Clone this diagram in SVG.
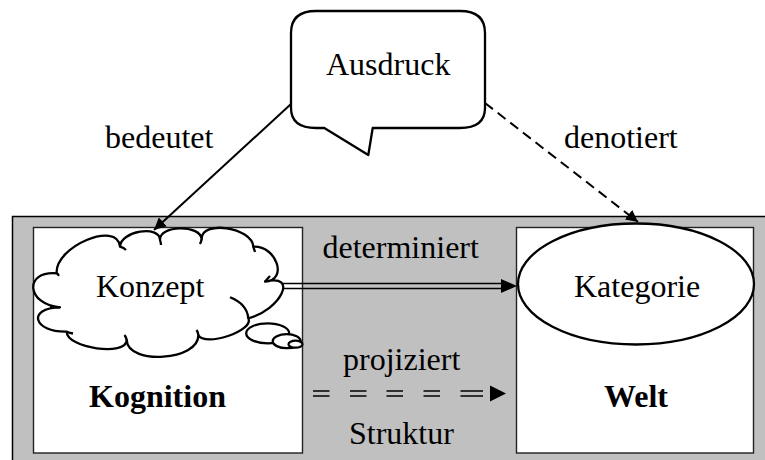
<svg xmlns="http://www.w3.org/2000/svg" width="765" height="460" viewBox="0 0 765 460">
<style>
text{font-family:"Liberation Serif","Times New Roman",serif;font-size:32px;fill:#000}
.b{font-weight:bold}
.shape{fill:#fff;stroke:#000;stroke-width:2.3;stroke-linejoin:round}
.panel{fill:#fff;stroke:#222;stroke-width:1.4}
.ln{fill:none;stroke:#000;stroke-width:2}
</style>
<defs>
<marker id="ah" viewBox="0 0 10 10" refX="10" refY="5" markerWidth="6" markerHeight="6" markerUnits="strokeWidth" orient="auto">
<path d="M0,0 L10,5 L0,10 z" fill="#000"/>
</marker>
</defs>

<g id="background">
<rect x="12.5" y="216.5" width="760" height="250" fill="#c0c0c0" stroke="#000" stroke-width="1.5"/>
</g>

<g id="kognition">
<rect class="panel" x="33.5" y="227.5" width="269" height="225.5"/>
<text class="b" x="89" y="407">Kognition</text>
</g>

<g id="welt">
<rect class="panel" x="516.5" y="227.5" width="237" height="225.5"/>
<text class="b" x="604" y="407">Welt</text>
</g>

<g id="connectors">
<line class="ln" x1="291" y1="104" x2="154" y2="230" marker-end="url(#ah)"/>
<line class="ln" x1="485" y1="103" x2="638" y2="222" stroke-dasharray="10 6" marker-end="url(#ah)"/>
<line x1="281" y1="283.5" x2="503" y2="283.5" stroke="#000" stroke-width="1.6"/>
<line x1="281" y1="288.5" x2="503" y2="288.5" stroke="#000" stroke-width="1.6"/>
<path d="M501,279 L517,286 L501,293 z" fill="#000"/>
<path d="M313,391 H329.5 M350,391 H366.5 M386.5,391 H403 M423.5,391 H440 M460.5,391 H483 M313,396 H329.5 M350,396 H366.5 M386.5,396 H403 M423.5,396 H440 M460.5,396 H483" stroke="#000" stroke-width="1.6" fill="none"/>
<path d="M490,385.5 L506,393.5 L490,401.5 z" fill="#000"/>
<text x="322.5" y="258">determiniert</text>
<text x="343" y="370">projiziert</text>
<text x="349" y="444">Struktur</text>
<text x="105" y="148">bedeutet</text>
<text x="564" y="148">denotiert</text>
</g>

<g id="ausdruck">
<path class="shape" d="M316,11 H460 Q485,11 485,33 V108 Q485,128 460,128 H372.7 L368.3,155 L324.3,128 H316 Q291,128 291,108 V33 Q291,11 316,11 Z"/>
<text x="326" y="75">Ausdruck</text>
</g>

<g id="konzept">
<path class="shape" d="M56.7,273.3 C54.5,246.6 117.8,220 120,246.7 C120,231.2 160,224.5 160,240 C158.9,224.9 200.6,224.2 201.7,239.3 C200.6,219.7 252.2,227.1 253.3,246.7 C276.7,245.5 288.4,280.5 265,281.7 C298.4,272.8 281.7,309.4 248.3,318.3 C254.6,330.8 204.6,347.5 198.3,335 C199.4,360.6 127.8,365.6 126.7,340 C126.7,356.6 66.7,348.3 66.7,331.7 C33.3,332.4 26.6,308 60,307.3 C26.6,304.6 23.3,270.6 56.7,273.3 Z"/>
<path d="M56.7,273.3 Q59,274 58,276 M120,246.7 Q124,248 126,250 M160,240 Q161,243 161,245 M201.7,239.3 Q201,242 200,244 M253.3,246.7 Q254,249 255,252 M265,281.7 Q268,278 270,276 M230,297.3 Q247,304 248.3,318.3 M198.3,335 Q198,332 196.5,330 M126.7,340 Q126,337 124.5,335 M66.7,331.7 Q70,333 73,333.5 M60,307.3 Q55,307 50,307" fill="none" stroke="#000" stroke-width="2.3"/>
<ellipse class="shape" cx="267.7" cy="333.3" rx="21.5" ry="10"/>
<ellipse class="shape" cx="286.7" cy="341.2" rx="14" ry="7"/>
<ellipse class="shape" cx="295.5" cy="344.2" rx="7" ry="3.5"/>
<text x="96" y="297">Konzept</text>
</g>

<g id="kategorie">
<ellipse class="shape" cx="636" cy="284" rx="118" ry="60.5"/>
<text x="574" y="297">Kategorie</text>
</g>
</svg>
